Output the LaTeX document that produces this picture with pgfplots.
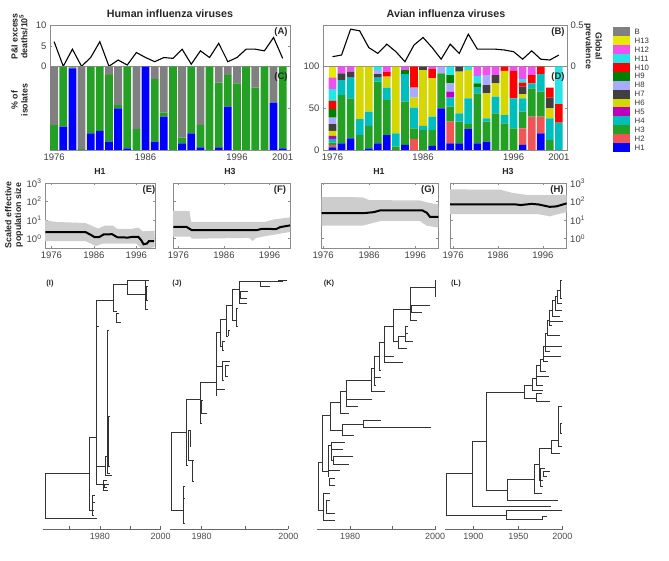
\documentclass[border=0pt]{standalone}
\usepackage{fontspec}
\setmainfont{Liberation Sans}
\usepackage{pgfplots}
\pgfplotsset{compat=1.18}
\usepackage{pgfplotstable}

\definecolor{cB}{RGB}{128,128,128}
\definecolor{cH13}{RGB}{232,232,0}
\definecolor{cH12}{RGB}{240,80,240}
\definecolor{cH11}{RGB}{40,228,228}
\definecolor{cH10}{RGB}{255,0,0}
\definecolor{cH9}{RGB}{0,128,0}
\definecolor{cH8}{RGB}{170,170,255}
\definecolor{cH7}{RGB}{64,64,64}
\definecolor{cH6}{RGB}{214,214,0}
\definecolor{cH5}{RGB}{190,0,190}
\definecolor{cH4}{RGB}{0,190,190}
\definecolor{cH3}{RGB}{36,160,36}
\definecolor{cH2}{RGB}{240,84,84}
\definecolor{cH1}{RGB}{0,0,255}
\definecolor{band}{RGB}{205,205,205}
\definecolor{frame}{RGB}{140,140,140}

\pgfplotstableread{
year d
1976 6.0
1977 0.1
1978 4.2
1979 0.1
1980 2.2
1981 6.0
1982 0.1
1983 1.6
1984 0.4
1985 3.4
1986 2.2
1987 1.2
1988 2.2
1989 2.0
1990 4.2
1991 0.6
1992 3.8
1993 2.2
1994 5.6
1995 1.2
1996 2.2
1997 4.2
1998 4.2
1999 3.8
2000 7.0
2001 2.0
}\tabA

\pgfplotstableread{
year p
1976 0.12
1977 0.14
1978 0.45
1979 0.43
1980 0.23
1981 0.16
1982 0.27
1983 0.18
1984 0.06
1985 0.26
1986 0.35
1987 0.23
1988 0.09
1989 0.27
1990 0.16
1991 0.39
1992 0.21
1993 0.21
1994 0.21
1995 0.20
1996 0.18
1997 0.09
1998 0.19
1999 0.09
2000 0.08
2001 0.14
}\tabB

\pgfplotstableread{
year H1 H3 B
1976 0 30 70
1977 28 72 0
1978 98 1 1
1979 0 1 99
1980 20 80 0
1981 23 77 0
1982 10 80 10
1983 50 4 46
1984 2 98 0
1985 0 25 75
1986 100 0 0
1987 10 75 15
1988 40 5 55
1989 0 100 0
1990 8 7 85
1991 20 80 0
1992 3 27 70
1993 0 100 0
1994 3 78 19
1995 52 38 10
1996 0 80 20
1997 0 100 0
1998 0 75 25
1999 0 100 0
2000 57 0 43
2001 2 98 0
}\tabC

\pgfplotstableread{
year H1 H2 H3 H4 H5 H6 H7 H8 H9 H10 H11 H12 H13
1976 3 3 3 4 4 6 8 8 10 10 14 14 13
1977 8 0 58 18 0 0 8 0 0 0 0 8 0
1978 14 0 48 25 0 0 7 0 0 0 0 6 0
1979 0 0 18 19 0 63 0 0 0 0 0 0 0
1980 2 0 27 17 0 54 0 0 0 0 0 0 0
1981 8 0 74 5 0 0 4 5 0 0 4 0 0
1982 18 0 42 15 0 13 0 0 0 6 0 6 0
1983 0 0 4 16 0 80 0 0 0 0 0 0 0
1984 6 0 52 33 0 0 0 0 5 0 0 4 0
1985 0 13 13 25 0 12 0 12 0 25 0 0 0
1986 0 0 24 5 0 67 4 0 0 0 0 0 0
1987 5 0 19 16 0 46 0 0 0 11 0 3 0
1988 50 0 42 0 0 0 0 8 0 0 0 0 0
1989 8 26 18 11 7 0 0 10 10 0 10 0 0
1990 8 0 26 10 0 50 6 0 0 0 0 0 0
1991 25 0 6 31 0 34 0 0 0 0 4 0 0
1992 8 0 60 7 0 0 0 0 5 0 9 11 0
1993 10 0 24 4 0 30 10 12 0 0 0 10 0
1994 0 0 44 20 0 16 10 0 0 0 0 10 0
1995 0 0 32 10 0 53 0 0 0 5 0 0 0
1996 0 0 26 36 0 0 0 0 0 33 0 5 0
1997 6 20 20 16 0 5 9 0 0 5 4 15 0
1998 0 40 34 6 0 0 0 0 0 10 0 10 0
1999 20 20 30 21 0 0 0 0 0 9 0 0 0
2000 0 0 12 26 0 12 13 0 0 12 0 0 0
2001 0 0 0 33 0 0 0 0 0 22 45 0 0
}\tabD

\pgfplotsset{
  base/.style={scale only axis, anchor=south west,
    axis line style={frame, line width=0.6pt},
    every tick/.style={frame, line width=0.5pt},
    major tick length=2.5pt,
    tick label style={font=\fontsize{9.5}{10}\selectfont, text=black!75},
    /pgf/number format/1000 sep={},
    /pgf/number format/assume math mode=true},
  treeax/.style={scale only axis, anchor=south west, height=249.3pt,
    ymin=-748, ymax=0, axis x line*=bottom, axis y line=none, clip=false,
    unbounded coords=jump,
    x axis line style={line width=1.6pt, black!60},
    every tick/.style={black!60, line width=0.6pt},
    tick align=inside, major tick length=3pt,
    tick label style={font=\fontsize{9}{10}\selectfont, text=black!70}},
  tree/.style={black!80, line width=0.7pt},
}

\begin{document}
\begin{tikzpicture}
\useasboundingbox (0pt,0pt) rectangle (669pt,560pt);

% ---------- (A) ----------
\begin{axis}[base, at={(50pt,493.3pt)}, width=240pt, height=41.7pt,
  xmin=1975.55, xmax=2001.8, ymin=0, ymax=10, ytick={0,5,10}, xtick=\empty]
\addplot[black, line width=1.1pt] table[x=year,y=d]{\tabA};
\end{axis}

% ---------- (C) ----------
\begin{axis}[base, at={(50pt,410pt)}, width=240pt, height=83.3pt,
  xmin=1975.55, xmax=2001.8, ymin=0, ymax=100, ytick={0,50,100}, yticklabels={},
  xtick={1976,1986,1996,2001}, xtick pos=left, ybar stacked, bar width=0.85]
\addplot[fill=cH1, draw=none] table[x=year,y=H1]{\tabC};
\addplot[fill=cH3, draw=none] table[x=year,y=H3]{\tabC};
\addplot[fill=cB, draw=none] table[x=year,y=B]{\tabC};
\end{axis}

% ---------- (B) ----------
\begin{axis}[base, at={(323pt,493.3pt)}, width=244pt, height=41.7pt,
  xmin=1974.95, xmax=2001.9, ymin=0, ymax=0.5, ytick={0,0.5}, yticklabel pos=right, xtick=\empty]
\addplot[black, line width=1.1pt] table[x=year,y=p]{\tabB};
\end{axis}

% ---------- (D) ----------
\begin{axis}[base, at={(323pt,410pt)}, width=244pt, height=83.3pt,
  xmin=1974.95, xmax=2001.9, ymin=0, ymax=100, ytick={0,50,100},
  xtick={1976,1986,1996,2001}, xtick pos=left, ybar stacked, bar width=0.85]
\addplot[fill=cH1, draw=none] table[x=year,y=H1]{\tabD};
\addplot[fill=cH2, draw=none] table[x=year,y=H2]{\tabD};
\addplot[fill=cH3, draw=none] table[x=year,y=H3]{\tabD};
\addplot[fill=cH4, draw=none] table[x=year,y=H4]{\tabD};
\addplot[fill=cH5, draw=none] table[x=year,y=H5]{\tabD};
\addplot[fill=cH6, draw=none] table[x=year,y=H6]{\tabD};
\addplot[fill=cH7, draw=none] table[x=year,y=H7]{\tabD};
\addplot[fill=cH8, draw=none] table[x=year,y=H8]{\tabD};
\addplot[fill=cH9, draw=none] table[x=year,y=H9]{\tabD};
\addplot[fill=cH10, draw=none] table[x=year,y=H10]{\tabD};
\addplot[fill=cH11, draw=none] table[x=year,y=H11]{\tabD};
\addplot[fill=cH12, draw=none] table[x=year,y=H12]{\tabD};
\addplot[fill=cH13, draw=none] table[x=year,y=H13]{\tabD};
\end{axis}

% ---------- legend ----------
\begin{axis}[scale only axis, anchor=south west, at={(323pt,410pt)}, width=244pt, height=83.3pt,
  hide axis, xmin=0, xmax=1, ymin=0, ymax=1,
  legend image code/.code={\fill (0pt,-4.47pt) rectangle (16.7pt,4.47pt);},
  legend style={at={(1.1885,1.4766)}, anchor=north west, draw=none, fill=none,
    inner sep=0pt, outer sep=0pt, row sep=0pt,
    font=\fontsize{7.8}{8}\selectfont,
    nodes={inner sep=0pt, text=black!80, text height=5.6pt, text depth=0pt},
    /tikz/every odd column/.append style={column sep=5pt}},
  legend cell align=left]
\addlegendimage{fill=cB, draw=none}\addlegendentry{B}
\addlegendimage{fill=cH13, draw=none}\addlegendentry{H13}
\addlegendimage{fill=cH12, draw=none}\addlegendentry{H12}
\addlegendimage{fill=cH11, draw=none}\addlegendentry{H11}
\addlegendimage{fill=cH10, draw=none}\addlegendentry{H10}
\addlegendimage{fill=cH9, draw=none}\addlegendentry{H9}
\addlegendimage{fill=cH8, draw=none}\addlegendentry{H8}
\addlegendimage{fill=cH7, draw=none}\addlegendentry{H7}
\addlegendimage{fill=cH6, draw=none}\addlegendentry{H6}
\addlegendimage{fill=cH5, draw=none}\addlegendentry{H5}
\addlegendimage{fill=cH4, draw=none}\addlegendentry{H4}
\addlegendimage{fill=cH3, draw=none}\addlegendentry{H3}
\addlegendimage{fill=cH2, draw=none}\addlegendentry{H2}
\addlegendimage{fill=cH1, draw=none}\addlegendentry{H1}
\end{axis}

% ---------- (E) ----------
\begin{axis}[base, at={(45pt,312pt)}, width=110pt, height=65pt,
  xmin=1974.5, xmax=2000.4, ymode=log, ymin=0.316, ymax=1000, minor tick length=0pt,
  ytick={1,10,100,1000}, yticklabels={10\textsuperscript{0},10\textsuperscript{1},10\textsuperscript{2},10\textsuperscript{3}},
  xtick={1976,1986,1996}]
\addplot[fill=band, draw=none] coordinates {(1974.5,10) (1977,8) (1984,7) (1985.5,5) (1987,3.5) (1988.5,5) (1990.5,5) (1991.5,3.4) (1995,3.4) (1996.5,4) (1997.5,2.5) (2000.3,2.7)
 (2000.3,0.35) (1998.5,0.3) (1997.8,0.2) (1997.2,0.3) (1996,0.55) (1988,0.55) (1986.5,0.4) (1984,0.75) (1974.5,0.75)} -- cycle;
\addplot[black, line width=2pt] coordinates {(1974.6,2.25) (1984.1,2.25) (1985.3,1.6) (1986.2,1.2) (1987.2,1.2) (1988.3,1.7) (1990.3,1.75) (1991.5,1.2) (1994,1.15) (1995,1.25) (1996.5,1.25) (1997.2,0.8) (1997.7,0.5) (1998.5,0.55) (1999,0.75) (2000.2,0.75)};
\end{axis}

% ---------- (F) ----------
\begin{axis}[base, at={(173pt,312pt)}, width=117pt, height=65pt,
  xmin=1974.8, xmax=2000.5, ymode=log, ymin=0.316, ymax=1000, minor tick length=0pt,
  ytick={1,10,100,1000}, yticklabels={}, xtick={1976,1986,1996}]
\addplot[fill=band, draw=none] coordinates {(1974.8,32) (1978.4,32) (1978.8,8) (1995,8) (1997,11) (2000.5,14)
 (2000.5,2.3) (1996,1.5) (1993,1.1) (1992.3,0.75) (1991.5,1.1) (1979,1.0) (1978.5,1.3) (1974.8,1.3)} -- cycle;
\addplot[black, line width=2pt] coordinates {(1974.9,4.3) (1977.8,4.3) (1978.9,2.9) (1993.2,2.9) (1994.3,3.4) (1997.5,3.3) (1998.3,4.2) (2000.5,5.2)};
\end{axis}

% ---------- (G) ----------
\begin{axis}[base, at={(321.7pt,312pt)}, width=116.6pt, height=65pt,
  xmin=1975.7, xmax=2001, ymode=log, ymin=0.316, ymax=1000, minor tick length=0pt,
  ytick={1,10,100,1000}, yticklabels={}, xtick={1976,1986,1996}]
\addplot[fill=band, draw=none] coordinates {(1975.7,175) (1984.5,170) (1986,120) (1997,115) (1999,85) (2001,70)
 (2001,4) (1998.5,5) (1997,9) (1988.5,9) (1984.5,5) (1975.7,5)} -- cycle;
\addplot[black, line width=2pt] coordinates {(1975.7,24) (1985,24) (1987,27) (1988.5,34) (1997.5,34) (1998.5,25) (1999.2,15) (2001,15)};
\end{axis}

% ---------- (H) ----------
\begin{axis}[base, at={(450pt,312pt)}, width=116.7pt, height=65pt,
  xmin=1975.3, xmax=2001.3, ymode=log, ymin=0.316, ymax=1000, minor tick length=0pt,
  ytick={1,10,100,1000}, yticklabel pos=right,
  yticklabels={10\textsuperscript{0},10\textsuperscript{1},10\textsuperscript{2},10\textsuperscript{3}},
  xtick={1976,1986,1996}]
\addplot[fill=band, draw=none] coordinates {(1975.3,450) (1986.5,440) (1989,300) (1992.3,230) (2001.3,220)
 (2001.3,27) (1999,20) (1997.5,16) (1995,21) (1975.3,21)} -- cycle;
\addplot[black, line width=2pt] coordinates {(1975.3,70) (1990,70) (1991,65) (1993.5,75) (1995,70) (1997.5,52) (1999,55) (2001.3,80)};
\end{axis}

% ---------- (I) tree ----------
\begin{axis}[treeax, at={(43.3pt,30.7pt)}, width=117.3pt, xmin=130, xmax=482,
  xtick={209,300,391,482}, xticklabels={,1980,,2000}]
\addplot[tree] coordinates {
(268,-580) (135,-580) (135,-715) (290,-715) (0,inf)
(288,-472) (268,-472) (268,-690) (278,-690) (0,inf)
(285,-645) (278,-645) (278,-705) (283,-705) (0,inf)
(284,-668) (278,-668) (278,-690) (282,-690) (0,inf)
(340,-62) (288,-62) (288,-612) (310,-612) (0,inf)
(298,-140) (288,-140) (288,-560) (315,-560) (0,inf)
(382,-12) (340,-12) (340,-95) (350,-95) (0,inf)
(436,0) (382,0) (382,-42) (436,-42) (0,inf)
(446,-2) (436,-2) (436,-88) (443,-88) (0,inf)
(444,-20) (438,-20) (438,-60) (445,-60) (0,inf)
(358,-100) (350,-100) (350,-128) (362,-128) (0,inf)
(322,-530) (315,-530) (315,-585) (335,-585) (0,inf)
(326,-150) (322,-150) (322,-580) (330,-580) (0,inf)
(329,-410) (325,-410) (325,-560) (331,-560) (0,inf)
(322,-600) (310,-600) (310,-630) (325,-630) (0,inf)
(328,-612) (314,-612) (314,-622) (320,-622)
};
\end{axis}

% ---------- (J) tree ----------
\begin{axis}[treeax, at={(170pt,30.7pt)}, width=118.3pt, xmin=510, xmax=865,
  xtick={605,735,865}, xticklabels={1980,,2000}]
\addplot[tree] coordinates {
(558,-457) (515,-457) (515,-692) (550,-692) (0,inf)
(556,-620) (550,-620) (550,-730) (555,-730) (0,inf)
(555,-655) (550,-655) (550,-690) (553,-690) (0,inf)
(600,-357) (558,-357) (558,-555) (565,-555) (0,inf)
(570,-450) (565,-450) (565,-540) (578,-540) (0,inf)
(582,-540) (578,-540) (578,-605) (580,-605) (0,inf)
(572,-450) (570,-450) (570,-500) (571,-500) (0,inf)
(648,-308) (600,-308) (600,-430) (605,-430) (0,inf)
(608,-360) (603,-360) (603,-400) (620,-400) (0,inf)
(662,-158) (648,-158) (648,-345) (650,-345) (0,inf)
(668,-260) (648,-260) (648,-328) (675,-328) (0,inf)
(690,-245) (668,-245) (668,-300) (672,-300) (0,inf)
(688,-255) (675,-255) (675,-290) (685,-290) (0,inf)
(680,-118) (662,-118) (662,-200) (668,-200) (0,inf)
(675,-185) (668,-185) (668,-210) (673,-210) (0,inf)
(698,-75) (680,-75) (680,-170) (684,-170) (0,inf)
(690,-150) (684,-150) (684,-165) (688,-165) (0,inf)
(718,-28) (698,-28) (698,-120) (712,-120) (0,inf)
(715,-85) (710,-85) (710,-140) (714,-140) (0,inf)
(782,-3) (718,-3) (718,-70) (742,-70) (0,inf)
(745,-35) (722,-35) (722,-55) (742,-55) (0,inf)
(835,-3) (782,-3) (782,-18) (810,-18) (0,inf)
(862,0) (835,0) (835,-5) (850,-5)
};
\end{axis}

% ---------- (K) tree ----------
\begin{axis}[treeax, at={(316.7pt,30.7pt)}, width=119pt, xmin=-40, xmax=317,
  xtick={60,187,315}, xticklabels={1980,,2000}]
\addplot[tree] coordinates {
(-22,-548) (-35,-548) (-35,-690) (-20,-690) (0,inf)
(0,-405) (-22,-405) (-22,-575) (-5,-575) (0,inf)
(32,-368) (0,-368) (0,-450) (37,-450) (0,inf)
(48,-335) (32,-335) (32,-400) (58,-400) (0,inf)
(125,-300) (48,-300) (48,-378) (85,-378) (0,inf)
(125,-357) (48,-357) (0,inf)
(133,-265) (125,-265) (125,-335) (165,-335) (0,inf)
(147,-228) (133,-228) (133,-315) (138,-315) (0,inf)
(133,-292) (152,-292) (0,inf)
(162,-188) (147,-188) (147,-270) (152,-270) (0,inf)
(190,-138) (162,-138) (162,-248) (220,-248) (0,inf)
(162,-228) (192,-228) (0,inf)
(240,-88) (190,-88) (190,-185) (205,-185) (0,inf)
(225,-170) (205,-170) (205,-205) (232,-205) (0,inf)
(235,-140) (225,-140) (225,-185) (248,-185) (0,inf)
(225,-160) (235,-160) (0,inf)
(315,-22) (240,-22) (240,-120) (262,-120) (0,inf)
(300,-75) (245,-75) (245,-98) (275,-98) (0,inf)
(318,0) (315,0) (315,-50) (318,-50) (0,inf)
(100,-432) (37,-432) (37,-465) (72,-465) (0,inf)
(152,-422) (100,-422) (100,-442) (302,-442) (0,inf)
(5,-497) (-5,-497) (-5,-590) (-2,-590) (0,inf)
(45,-487) (5,-487) (5,-540) (10,-540) (0,inf)
(5,-507) (40,-507) (0,inf)
(70,-530) (10,-530) (10,-552) (57,-552) (0,inf)
(-5,-572) (30,-572) (0,inf)
(15,-595) (-2,-595) (-2,-615) (15,-615) (0,inf)
(0,-640) (-20,-640) (-20,-720) (15,-720) (0,inf)
(0,-660) (-12,-660) (-12,-700) (15,-700)
};
\end{axis}

% ---------- (L) tree ----------
\begin{axis}[treeax, at={(445pt,30.7pt)}, width=118.3pt, xmin=345, xmax=700,
  xtick={430,565,697}, xticklabels={1900,1950,2000}]
\addplot[tree] coordinates {
(428,-580) (350,-580) (350,-705) (530,-705) (0,inf)
(468,-483) (428,-483) (428,-678) (662,-678) (0,inf)
(582,-337) (468,-337) (468,-630) (533,-630) (0,inf)
(612,-598) (533,-598) (533,-662) (683,-662) (0,inf)
(628,-553) (612,-553) (612,-640) (635,-640) (0,inf)
(665,-505) (628,-505) (628,-600) (640,-600) (0,inf)
(645,-565) (630,-565) (630,-620) (640,-620) (0,inf)
(660,-575) (640,-575) (640,-590) (650,-590) (0,inf)
(685,-480) (665,-480) (665,-520) (690,-520) (0,inf)
(697,-380) (685,-380) (685,-500) (695,-500) (0,inf)
(697,-430) (690,-430) (690,-460) (697,-460) (0,inf)
(697,-692) (530,-692) (530,-718) (637,-718) (0,inf)
(652,-708) (637,-708) (637,-718) (640,-718) (0,inf)
(608,-315) (582,-315) (582,-355) (618,-355) (0,inf)
(635,-340) (618,-340) (618,-365) (660,-365) (0,inf)
(620,-295) (608,-295) (608,-330) (640,-330) (0,inf)
(630,-255) (620,-255) (620,-315) (640,-315) (0,inf)
(620,-290) (658,-290) (0,inf)
(640,-238) (630,-238) (630,-275) (648,-275) (0,inf)
(645,-198) (640,-198) (640,-245) (655,-245) (0,inf)
(640,-230) (692,-230) (0,inf)
(652,-160) (645,-160) (645,-215) (660,-215) (0,inf)
(645,-200) (697,-200) (0,inf)
(658,-120) (652,-120) (652,-165) (690,-165) (0,inf)
(668,-90) (658,-90) (658,-135) (665,-135) (0,inf)
(658,-125) (700,-125) (0,inf)
(675,-60) (668,-60) (668,-108) (690,-108) (0,inf)
(683,-48) (675,-48) (675,-90) (697,-90) (0,inf)
(690,-30) (683,-30) (683,-70) (697,-70) (0,inf)
(697,0) (690,0) (690,-55) (697,-55)
};
\end{axis}

% ---------- text ----------
\begin{scope}[every node/.style={font=\bfseries\fontsize{10.7}{12}\selectfont, text=black!85}]
\node at (170pt,546pt) {Human influenza viruses};
\node at (446pt,546pt) {Avian influenza viruses};
\end{scope}
\begin{scope}[every node/.style={font=\bfseries\fontsize{8.8}{9.8}\selectfont, text=black!85, align=center}]
\node[rotate=90] at (19.5pt,523.5pt) {P\&I excess\\deaths/10\textsuperscript{5}};
\node[rotate=90] at (19.5pt,460pt) {\% of\\isolates};
\node[rotate=-90] at (593pt,514pt) {Global\\prevalence};
\node[rotate=90] at (14pt,345pt) {Scaled effective\\population size};
\node at (100pt,389pt) {H1};
\node at (230pt,389pt) {H3};
\node at (379pt,389pt) {H1};
\node at (508pt,389pt) {H3};
\end{scope}
\begin{scope}[every node/.style={font=\bfseries\fontsize{9.5}{10}\selectfont, text=black!85}]
\node at (281pt,528pt) {(A)};
\node at (281pt,483pt) {(C)};
\node at (558pt,528pt) {(B)};
\node at (558pt,483pt) {(D)};
\node at (149pt,370pt) {(E)};
\node at (280pt,370pt) {(F)};
\node at (428pt,370pt) {(G)};
\node at (557pt,370pt) {(H)};
\end{scope}
\begin{scope}[every node/.style={font=\bfseries\fontsize{7.5}{8}\selectfont, text=black!85}]
\node at (50pt,276pt) {(I)};
\node at (177pt,276pt) {(J)};
\node at (329pt,276pt) {(K)};
\node at (456pt,276pt) {(L)};
\end{scope}
\end{tikzpicture}
\end{document}
